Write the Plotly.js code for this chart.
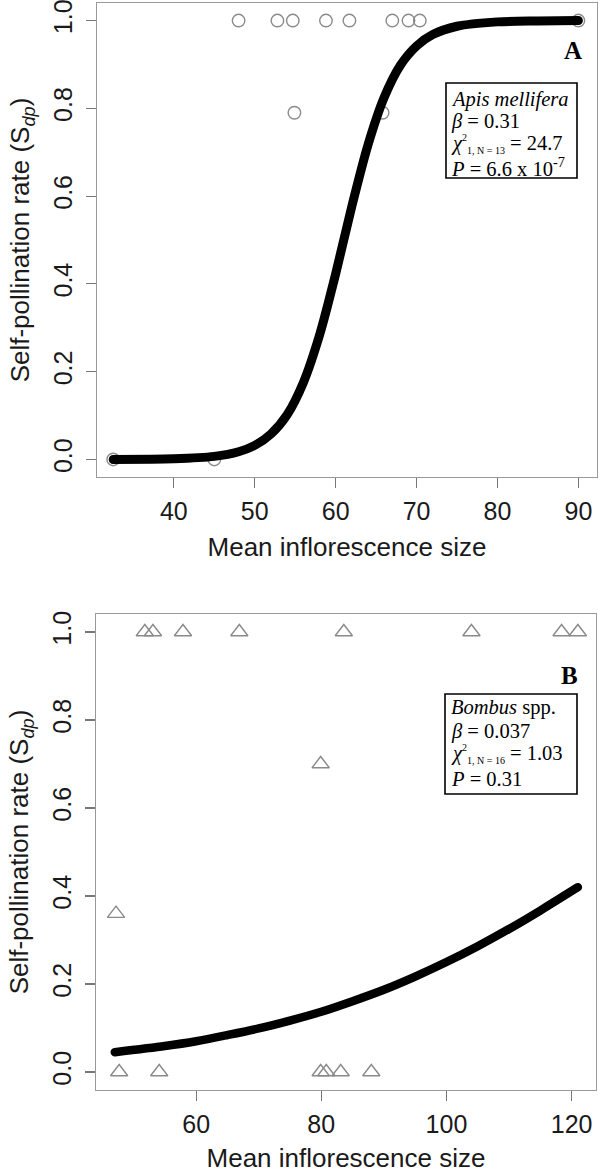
<!DOCTYPE html>
<html>
<head>
<meta charset="utf-8">
<script src="https://cdn.plot.ly/plotly-3.0.1.min.js"></script>
<style>html,body{margin:0;padding:0;background:#fff;}#chart{width:600px;height:1173px;}</style>
</head>
<body>
<div id="chart"></div>
<script>
// Panel A: Apis mellifera (observed points)
const apisX = [32.5, 45.0, 48.0, 52.8, 54.7, 58.8, 61.7, 67.0, 69.0, 70.4, 54.9, 65.8, 90.0];
const apisY = [0, 0, 1, 1, 1, 1, 1, 1, 1, 1, 0.79, 0.79, 1];
// Panel A fitted curve
const apisFitX = [32.5, 40, 45, 48, 50, 52, 54, 56, 58, 60, 62, 64, 66, 68, 70, 72, 75, 80, 85, 90];
const apisFitY = [0.0, 0.0015, 0.007, 0.0175, 0.032, 0.058, 0.102, 0.175, 0.283, 0.423, 0.577, 0.717, 0.825, 0.898, 0.942, 0.968, 0.987, 0.997, 0.999, 1.0];

// Panel B: Bombus spp. (observed points)
const bombX = [51.8, 53.1, 57.9, 66.9, 83.6, 104.0, 118.4, 121.0, 79.9, 47.2, 47.7, 54.1, 79.9, 80.8, 83.1, 88.0];
const bombY = [1, 1, 1, 1, 1, 1, 1, 1, 0.70, 0.36, 0, 0, 0, 0, 0, 0];
// Panel B fitted curve
const bombFitX = [47, 55, 60, 65, 70, 75, 80, 85, 90, 95, 100, 105, 110, 115, 121];
const bombFitY = [0.045, 0.059, 0.070, 0.084, 0.099, 0.117, 0.137, 0.161, 0.187, 0.217, 0.250, 0.286, 0.325, 0.367, 0.420];

// Tick labels
const xTicksA = [40, 50, 60, 70, 80, 90];
const xTicksB = [60, 80, 100, 120];
const yTicks = [0, 0.2, 0.4, 0.6, 0.8, 1.0];
const yTickText = ['0.0', '0.2', '0.4', '0.6', '0.8', '1.0'];

const xTitle = 'Mean inflorescence size';
const yTitle = 'Self-pollination rate (S<sub><i>dp</i></sub>)';

const sans = 'Liberation Sans, Arial, Helvetica, sans-serif';
const serif = 'Liberation Serif, Times New Roman, serif';
const ptGray = '#8a8a8a';

const traces = [
  {x: apisX, y: apisY, xaxis: 'x', yaxis: 'y', type: 'scatter', mode: 'markers',
   marker: {symbol: 'circle-open', size: 12.5, color: ptGray, line: {width: 1.4, color: ptGray}}, hoverinfo: 'x+y'},
  {x: apisFitX, y: apisFitY, xaxis: 'x', yaxis: 'y', type: 'scatter', mode: 'lines',
   line: {color: '#000', width: 9, shape: 'spline', smoothing: 0.8}, hoverinfo: 'skip'},
  {x: bombX, y: bombY, xaxis: 'x2', yaxis: 'y2', type: 'scatter', mode: 'markers',
   marker: {symbol: 'triangle-up-open', size: 15, color: ptGray, line: {width: 1.4, color: ptGray}}, hoverinfo: 'x+y'},
  {x: bombFitX, y: bombFitY, xaxis: 'x2', yaxis: 'y2', type: 'scatter', mode: 'lines',
   line: {color: '#000', width: 8.5, shape: 'spline', smoothing: 0.8}, hoverinfo: 'skip'}
];

function xAxis(domain, range, ticks, anchor) {
  return {
    domain: domain, range: range, anchor: anchor,
    tickmode: 'array', tickvals: ticks, ticktext: ticks.map(String),
    showgrid: false, zeroline: false,
    showline: true, mirror: true, linecolor: '#9a9a9a', linewidth: 1.3,
    ticks: 'outside', ticklen: 10, tickwidth: 1.2, tickcolor: '#777',
    tickfont: {family: sans, size: 25, color: '#1a1a1a'},
    ticklabelstandoff: 2, ticklabeloverflow: 'allow',
    title: {text: xTitle, font: {family: sans, size: 26, color: '#1a1a1a'}, standoff: 13}
  };
}
function yAxis(domain, anchor) {
  return {
    domain: domain, range: [-0.04, 1.04], anchor: anchor,
    tickmode: 'array', tickvals: yTicks, ticktext: yTickText, tickangle: -90,
    showgrid: false, zeroline: false,
    showline: true, mirror: true, linecolor: '#9a9a9a', linewidth: 1.3,
    ticks: 'outside', ticklen: 10, tickwidth: 1.2, tickcolor: '#777',
    tickfont: {family: sans, size: 25, color: '#1a1a1a'},
    ticklabelstandoff: 4, ticklabeloverflow: 'allow',
    title: {text: yTitle, font: {family: sans, size: 26, color: '#1a1a1a'}, standoff: 11}
  };
}

const H = 1173, W = 600;
const px = v => v / W;
const py = v => 1 - v / H;

function txt(text, x, y, size, family, opts) {
  return Object.assign({xref: 'paper', yref: 'paper', x: px(x), y: py(y), text: text, showarrow: false,
    xanchor: 'left', yanchor: 'middle', font: {family: family || serif, size: size || 20, color: '#000'}}, opts || {});
}
const chi = n => '<i>χ</i><sup><span style="font-size:10px">2</span></sup><sub><span style="font-size:10px">1, N = ' + n + '</span></sub>';

const annotations = [
  txt('<b>A</b>', 573, 51, 25, serif, {xanchor: 'center'}),
  txt('<i>Apis mellifera</i>', 449, 99, 20.5),
  txt('<i>β</i> = 0.31', 449, 122, 20.5),
  txt(chi(13) + ' = 24.7', 449, 144, 20.5),
  txt('<i>P</i> = 6.6 x 10<sup>-7</sup>', 449, 167, 20.5),

  txt('<b>B</b>', 569, 675, 25, serif, {xanchor: 'center'}),
  txt('<i>Bombus</i> spp.', 449, 708, 20.5),
  txt('<i>β</i> = 0.037', 449, 731, 20.5),
  txt(chi(16) + ' = 1.03', 449, 754, 20.5),
  txt('<i>P</i> = 0.31', 449, 779, 20.5)
];

const shapes = [
  {type: 'rect', xref: 'paper', yref: 'paper', x0: px(446), x1: px(577), y0: py(83), y1: py(178),
   line: {color: '#000', width: 1.6}, fillcolor: 'rgba(255,255,255,0)'},
  {type: 'rect', xref: 'paper', yref: 'paper', x0: px(445), x1: px(577), y0: py(694), y1: py(794),
   line: {color: '#000', width: 1.6}, fillcolor: 'rgba(255,255,255,0)'}
];

const layout = {
  width: W, height: H,
  margin: {l: 0, r: 0, t: 0, b: 0},
  paper_bgcolor: '#fff', plot_bgcolor: '#fff',
  showlegend: false,
  xaxis: xAxis([97 / W, 597 / W], [30.5, 92.3], xTicksA, 'y'),
  yaxis: yAxis([py(477), py(3)], 'x'),
  xaxis2: xAxis([96 / W, 596 / W], [44.0, 123.9], xTicksB, 'y2'),
  yaxis2: yAxis([py(1089.6), py(614.4)], 'x2'),
  annotations: annotations,
  shapes: shapes
};

Plotly.newPlot('chart', traces, layout, {displayModeBar: false, staticPlot: true}).then(() => {
  document.querySelectorAll('.scatterlayer .js-line').forEach(p => {
    p.style.strokeLinecap = 'round';
    p.style.strokeLinejoin = 'round';
  });
});
</script>
</body>
</html>
